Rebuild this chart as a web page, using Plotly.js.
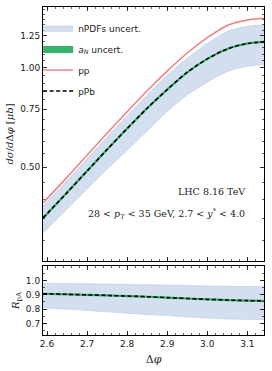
<!DOCTYPE html>
<html>
<head>
<meta charset="utf-8">
<script src="https://cdn.plot.ly/plotly-3.0.1.min.js"></script>
<style>html,body{margin:0;padding:0;background:#fff;}#chart{width:272px;height:371px;}</style>
</head>
<body>
<div id="chart"></div>
<script>
// Delta phi grid
const dphi = [2.59, 2.65, 2.70, 2.75, 2.80, 2.85, 2.90, 2.95, 3.00, 3.05, 3.10, 3.1416];
// cross sections [mu b]
const pp   = [0.390, 0.466, 0.544, 0.634, 0.737, 0.853, 0.978, 1.110, 1.235, 1.345, 1.398, 1.415];
const pPb  = [0.351, 0.419, 0.487, 0.566, 0.655, 0.755, 0.860, 0.970, 1.065, 1.142, 1.186, 1.199];
const nPDFup = [0.382, 0.456, 0.531, 0.618, 0.716, 0.827, 0.950, 1.070, 1.187, 1.290, 1.338, 1.350];
const nPDFlo = [0.316, 0.373, 0.430, 0.493, 0.563, 0.645, 0.738, 0.828, 0.905, 0.975, 1.012, 1.022];
// nuclear modification ratio
const RpA    = [0.907, 0.903, 0.899, 0.895, 0.891, 0.886, 0.880, 0.874, 0.868, 0.863, 0.859, 0.857];
const RpAup  = [0.980, 0.978, 0.976, 0.974, 0.972, 0.970, 0.967, 0.964, 0.961, 0.959, 0.957, 0.956];
const RpAlo  = [0.810, 0.800, 0.791, 0.781, 0.772, 0.763, 0.755, 0.746, 0.738, 0.732, 0.729, 0.728];
// ticks
const mainYTicks = [0.50, 0.75, 1.00, 1.25];
const mainYTickText = ['0.50', '0.75', '1.00', '1.25'];
const mainYMinor = [0.30,0.35,0.40,0.45,0.55,0.60,0.65,0.70,0.80,0.85,0.90,0.95,1.05,1.10,1.15,1.20,1.30,1.35,1.40,1.45,1.50];
const ratioYTicks = [0.7, 0.8, 0.9, 1.0];
const xTicks = [2.6, 2.7, 2.8, 2.9, 3.0, 3.1];

const bandFill = 'rgba(196,212,234,0.75)';
const bandEdge = 'rgba(176,198,228,0.9)';
const green = '#33b36b';
const red = '#f07f7f';
const sans = 'DejaVu Sans, sans-serif';
const serif = 'DejaVu Serif, serif';
const sm = 0.8;

const traces = [
  {x: dphi, y: nPDFlo, type: 'scatter', mode: 'lines', line: {color: bandEdge, width: 0.6, shape: 'spline', smoothing: sm}, showlegend: false, legendgroup: 'g1', xaxis: 'x', yaxis: 'y'},
  {x: dphi, y: nPDFup, type: 'scatter', mode: 'lines', fill: 'tonexty', fillcolor: bandFill, line: {color: bandEdge, width: 0.6, shape: 'spline', smoothing: sm}, name: 'nPDFs uncert.', legendgroup: 'g1', xaxis: 'x', yaxis: 'y'},
  {x: dphi.concat(dphi.slice().reverse()), y: pPb.concat(pPb.slice().reverse()), type: 'scatter', mode: 'lines', fill: 'toself', fillcolor: green, line: {color: green, width: 2.2, shape: 'spline', smoothing: sm}, name: '<i>a<sub>N</sub></i> uncert.', legendgroup: 'g2', xaxis: 'x', yaxis: 'y'},
  {x: dphi, y: pp, type: 'scatter', mode: 'lines', line: {color: red, width: 1.5, shape: 'spline', smoothing: sm}, name: 'pp', legendgroup: 'g3', xaxis: 'x', yaxis: 'y'},
  {x: dphi, y: pPb, type: 'scatter', mode: 'lines', line: {color: '#000', width: 1.6, dash: '4px,2.5px', shape: 'spline', smoothing: sm}, name: 'pPb', legendgroup: 'g4', xaxis: 'x', yaxis: 'y'},
  // ratio panel
  {x: dphi, y: RpAlo, type: 'scatter', mode: 'lines', line: {color: bandEdge, width: 0.6, shape: 'spline', smoothing: sm}, showlegend: false, xaxis: 'x2', yaxis: 'y2'},
  {x: dphi, y: RpAup, type: 'scatter', mode: 'lines', fill: 'tonexty', fillcolor: bandFill, line: {color: bandEdge, width: 0.6, shape: 'spline', smoothing: sm}, showlegend: false, xaxis: 'x2', yaxis: 'y2'},
  {x: dphi, y: RpA, type: 'scatter', mode: 'lines', line: {color: green, width: 2.2, shape: 'spline', smoothing: sm}, showlegend: false, xaxis: 'x2', yaxis: 'y2'},
  {x: dphi, y: RpA, type: 'scatter', mode: 'lines', line: {color: '#000', width: 1.6, dash: '4px,2.5px', shape: 'spline', smoothing: sm}, showlegend: false, xaxis: 'x2', yaxis: 'y2'}
];

const axCommon = {
  showline: true, linecolor: '#000', linewidth: 1, mirror: 'allticks',
  ticks: 'inside', ticklen: 4, tickwidth: 0.8, tickcolor: '#000',
  showgrid: false, zeroline: false,
  tickfont: {family: sans, size: 9, color: '#222'}
};

const layout = {
  width: 272, height: 371,
  margin: {l: 43, r: 8, t: 7, b: 36},
  paper_bgcolor: '#fff', plot_bgcolor: '#fff',
  showlegend: true,
  legend: {x: -0.022, y: 0.98, xanchor: 'left', yanchor: 'top', bgcolor: 'rgba(0,0,0,0)', traceorder: 'grouped',
           font: {family: sans, size: 9, color: '#222'}, tracegroupgap: 2, itemwidth: 30},
  xaxis: Object.assign({}, axCommon, {
    domain: [0, 1], anchor: 'y', range: [2.59, 3.1416], tickvals: xTicks, showticklabels: false,
    minor: {dtick: 0.02, tick0: 2.6, ticks: 'inside', ticklen: 2, tickwidth: 0.6, tickcolor: '#000'}
  }),
  yaxis: Object.assign({}, axCommon, {
    domain: [0.2256, 1], anchor: 'x', type: 'log', range: [Math.log10(0.26), Math.log10(1.53)],
    tickmode: 'array', tickvals: mainYTicks, ticktext: mainYTickText,
    minor: {tickmode: 'array', tickvals: mainYMinor, ticks: 'inside', ticklen: 2, tickwidth: 0.6, tickcolor: '#000'},
    title: {text: '<i>dσ</i>/<i>d</i>Δ<i>φ</i> [<i>μb</i>]', font: {family: serif, size: 10, color: '#222'}, standoff: 4}
  }),
  xaxis2: Object.assign({}, axCommon, {
    domain: [0, 1], anchor: 'y2', matches: 'x', range: [2.59, 3.1416], tickvals: xTicks,
    ticktext: ['2.6','2.7','2.8','2.9','3.0','3.1'],
    minor: {dtick: 0.02, tick0: 2.6, ticks: 'inside', ticklen: 2, tickwidth: 0.6, tickcolor: '#000'},
    title: {text: 'Δ<i>φ</i>', font: {family: serif, size: 11, color: '#222'}, standoff: 7}
  }),
  yaxis2: Object.assign({}, axCommon, {
    domain: [0, 0.2104], anchor: 'x2', range: [0.62, 1.1], tickvals: ratioYTicks,
    ticktext: ['0.7','0.8','0.9','1.0'],
    minor: {dtick: 0.05, tick0: 0.6, ticks: 'inside', ticklen: 2, tickwidth: 0.6, tickcolor: '#000'},
    title: {text: '<i>R</i><sub>pA</sub>', font: {family: serif, size: 10, color: '#222'}, standoff: 4}
  }),
  annotations: [
    {xref: 'x', yref: 'y', x: 3.099, y: Math.log10(0.421), xanchor: 'right', yanchor: 'middle', showarrow: false,
     text: 'LHC 8.16 TeV', font: {family: serif, size: 9.5, color: '#222'}},
    {xref: 'x', yref: 'y', x: 3.099, y: Math.log10(0.361), xanchor: 'right', yanchor: 'middle', showarrow: false,
     text: '28 &lt; <i>p<sub>T</sub></i> &lt; 35 GeV, 2.7 &lt; <i>y</i><sup>*</sup> &lt; 4.0', font: {family: serif, size: 9.5, color: '#222'}}
  ]
};

Plotly.newPlot('chart', traces, layout, {displayModeBar: false, staticPlot: true});
</script>
</body>
</html>
